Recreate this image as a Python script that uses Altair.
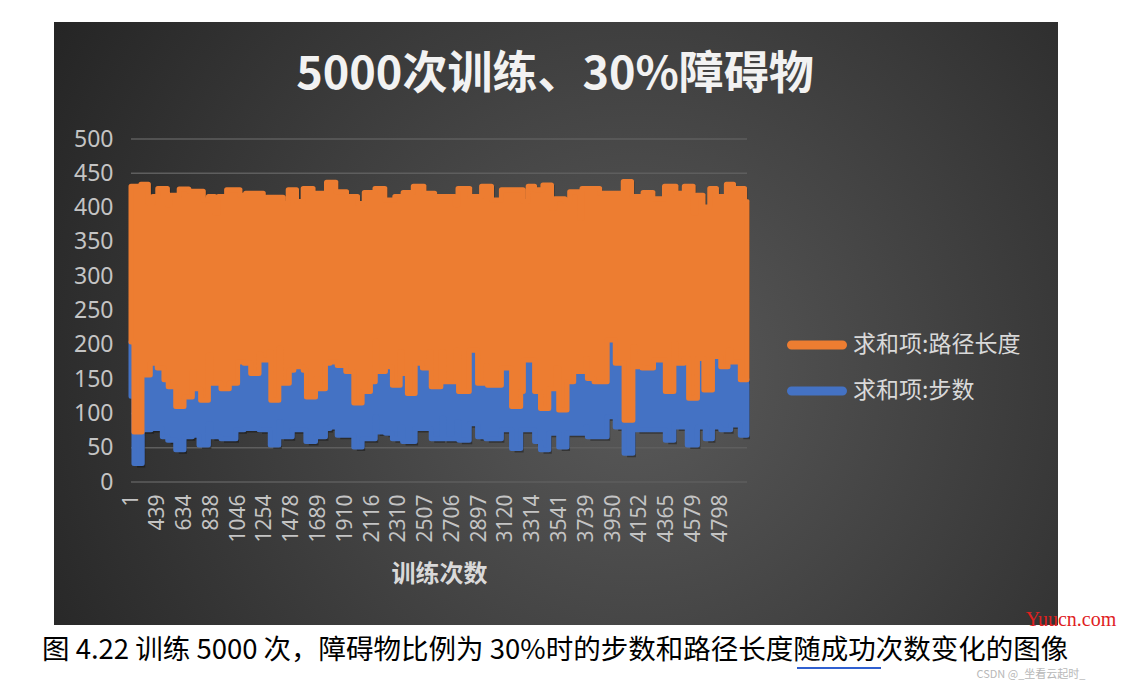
import altair as alt
import pandas as pd

TITLE = "5000次训练、30%障碍物"
X_TITLE = "训练次数"
CAPTION = "图 4.22 训练 5000 次，障碍物比例为 30%时的步数和路径长度随成功次数变化的图像"
WATERMARK_1 = "Yuucn.com"
WATERMARK_2 = "CSDN @_坐看云起时_"
SERIES = ["求和项:路径长度", "求和项:步数"]
COLORS = ["#ED7D31", "#4472C4"]
X_LABELS = ["1", "439", "634", "838", "1046", "1254", "1478", "1689", "1910", "2116",
            "2310", "2507", "2706", "2897", "3120", "3314", "3541", "3739", "3950",
            "4152", "4365", "4579", "4798"]
Y_TICKS = [0, 50, 100, 150, 200, 250, 300, 350, 400, 450, 500]
X_END = 23.0

# upper envelope of the orange series (path length), step starts in x-axis slot units
OHI_X = [0.00, 0.37, 0.65, 0.81, 1.00, 1.36, 1.47, 1.80, 2.16, 2.70, 2.89, 3.13, 3.26, 3.57,
         4.07, 4.28, 4.94, 5.68, 5.87, 6.18, 6.43, 6.80, 7.30, 7.65, 8.05, 8.46, 8.71, 9.11,
         9.48, 9.85, 10.16, 10.54, 10.94, 11.34, 12.09, 12.21, 12.65, 13.09, 13.46, 13.83,
         14.64, 14.83, 15.07, 15.38, 15.70, 15.82, 16.20, 16.38, 16.75, 16.84, 17.50, 18.38,
         18.69, 19.12, 19.49, 19.92, 20.35, 20.66, 20.99, 21.11, 21.36, 21.61, 21.86, 22.23,
         22.50, 22.91]
OHI_Y = [431, 434, 406, 416, 428, 404, 418, 427, 424, 411, 416, 392, 416, 426,
         418, 421, 415, 406, 426, 409, 428, 421, 437, 423, 416, 406, 422, 428,
         411, 416, 422, 431, 421, 416, 404, 428, 416, 431, 411, 426,
         409, 431, 426, 433, 399, 413, 409, 423, 384, 428, 421, 438,
         416, 422, 413, 431, 421, 431, 392, 418, 401, 428, 416, 434,
         428, 409]

# lower envelope of the orange series = visible top of the blue series
MID_X = [0.00, 0.11, 0.41, 0.72, 0.98, 1.23, 1.39, 1.67, 1.98, 2.29, 2.36, 2.60, 2.89, 3.00,
         3.36, 3.67, 3.98, 4.22, 4.47, 4.78, 4.85, 5.15, 5.22, 5.52, 5.60, 5.91, 6.08, 6.43,
         6.55, 6.89, 6.99, 7.26, 7.43, 7.70, 8.02, 8.32, 8.63, 8.94, 9.12, 9.17, 9.50, 9.76,
         10.05, 10.11, 10.32, 10.61, 10.88, 11.13, 11.21, 11.57, 11.68, 12.14, 12.23, 12.63,
         12.94, 13.25, 13.31, 13.83, 14.21, 14.55, 14.65, 15.07, 15.29, 15.60, 15.86, 15.97,
         16.28, 16.53, 16.98, 17.04, 17.29, 17.78, 18.08, 18.41, 18.74, 18.83, 19.08, 19.51,
         19.95, 20.27, 20.34, 20.65, 20.82, 21.15, 21.39, 21.71, 22.02, 22.29, 22.41, 22.75]
MID_Y = [204, 73, 156, 173, 166, 149, 139, 110, 124, 161, 136, 119, 185, 144,
         136, 144, 175, 173, 158, 187, 178, 190, 119, 195, 144, 163, 168, 163,
         124, 151, 136, 173, 175, 170, 161, 115, 132, 146, 205, 161, 168, 141,
         190, 158, 129, 173, 166, 190, 139, 190, 146, 192, 132, 192,
         144, 170, 141, 166, 110, 132, 178, 132, 107, 136, 166, 105,
         146, 161, 180, 151, 146, 207, 173, 90, 197, 168, 166, 178,
         132, 202, 173, 180, 122, 180, 134, 183, 168, 192, 175, 149]

# lower envelope of the blue series (steps)
BLO_X = [0.00, 0.11, 0.42, 0.75, 1.17, 1.37, 1.67, 1.98, 2.29, 2.54, 2.89, 3.00, 3.36, 3.92,
         4.22, 4.78, 5.20, 5.52, 5.60, 6.02, 6.53, 6.89, 7.26, 7.43, 7.70, 8.32, 8.63, 9.12,
         9.17, 9.50, 9.76, 10.05, 10.14, 10.61, 11.21, 11.61, 11.68, 12.16, 12.24, 12.63,
         12.94, 13.25, 13.83, 14.21, 14.55, 15.07, 15.29, 15.60, 15.97, 16.28, 16.98, 17.04,
         17.78, 18.08, 18.41, 18.74, 18.87, 19.95, 20.27, 20.34, 20.77, 21.15, 21.44, 21.71,
         22.02, 22.39, 22.75]
BLO_Y = [125, 27, 76, 78, 66, 61, 47, 66, 68, 54, 85, 66, 63, 76,
         78, 76, 54, 88, 66, 76, 59, 66, 78, 80, 68, 51, 63, 95,
         73, 71, 63, 80, 59, 78, 63, 93, 63, 88, 61, 85,
         66, 63, 76, 49, 76, 59, 47, 71, 51, 71, 80, 66,
         95, 80, 42, 88, 76, 61, 85, 80, 54, 80, 63, 80,
         76, 83, 68]

for xs, ys in ((OHI_X, OHI_Y), (MID_X, MID_Y), (BLO_X, BLO_Y)):
    assert len(xs) == len(ys), (len(xs), len(ys))


def step_value(xs, ys, x):
    v = ys[0]
    for xi, yi in zip(xs, ys):
        if xi <= x + 1e-9:
            v = yi
        else:
            break
    return v


rows = []
for x in sorted(set(OHI_X) | set(MID_X) | set(BLO_X) | {X_END}):
    top = step_value(OHI_X, OHI_Y, x)
    mid = step_value(MID_X, MID_Y, x)
    low = step_value(BLO_X, BLO_Y, x)
    rows.append({"x": x, "series": SERIES[0], "lo": mid, "hi": top})
    rows.append({"x": x, "series": SERIES[1], "lo": low, "hi": mid})
df = pd.DataFrame(rows)
grid_df = pd.DataFrame({"lo": Y_TICKS})

FONT_NUM = "Noto Sans"
FONT_CJK = "Noto Sans CJK SC"
LABEL_COLOR = "#c4c4c4"
label_expr = "[" + ",".join("'%s'" % s for s in X_LABELS) + "][datum.value]"

x_enc = alt.X(
    "x:Q",
    scale=alt.Scale(domain=[0, X_END], nice=False, zero=False),
    axis=alt.Axis(values=list(range(len(X_LABELS))), labelExpr=label_expr, labelAngle=270,
                  labelAlign="right", labelBaseline="middle", labelPadding=12,
                  labelFont=FONT_NUM, labelFontSize=21, labelColor=LABEL_COLOR,
                  labelOverlap=False, labelFlush=False, ticks=False, domain=False, grid=False,
                  title=X_TITLE, titleFont=FONT_CJK, titleFontSize=24, titleFontWeight="bold",
                  titleColor="#d9d9d9", titleY=92, titleBaseline="middle", zindex=1),
)
y_axis = alt.Axis(values=Y_TICKS, labelPadding=18, labelFont=FONT_NUM, labelFontSize=23,
                  labelColor=LABEL_COLOR, labelFlush=False, ticks=False, domain=False,
                  grid=False, title=None, zindex=1)
y_scale = alt.Scale(domain=[0, 500], nice=False, zero=True)
y_enc = alt.Y("lo:Q", scale=y_scale, axis=y_axis)
y2_enc = alt.Y2("hi:Q")
PILL = "M-1.7,-0.3L1.7,-0.3A0.3,0.3,0,0,1,1.7,0.3L-1.7,0.3A0.3,0.3,0,0,1,-1.7,-0.3Z"
color_enc = alt.Color(
    "series:N",
    scale=alt.Scale(domain=SERIES, range=COLORS),
    legend=alt.Legend(title=None, orient="none", legendX=671, legendY=191, symbolType=PILL,
                      symbolSize=900, symbolStrokeWidth=0, labelFont=FONT_CJK,
                      labelFontSize=23, labelColor="#d9d9d9", labelOffset=21, rowPadding=19,
                      labelLimit=400),
)

bg = alt.Chart(pd.DataFrame({"k": [0]})).mark_rect(
    fill={"gradient": "radial", "x1": 0.58, "y1": 0.55, "r1": 0, "x2": 0.58, "y2": 0.55, "r2": 0.75,
          "stops": [{"offset": 0, "color": "#5a5a5a"}, {"offset": 1, "color": "#1f1f1f"}]}
).encode(x=alt.value(-77), x2=alt.value(927), y=alt.value(-117), y2=alt.value(486))

grid = alt.Chart(grid_df).mark_rule(color="#5e5e5e", strokeWidth=1.5).encode(y=y_enc)

shadow = alt.Chart(df).mark_area(interpolate="step-after", color="#000000", opacity=0.35,
                                 xOffset=3, yOffset=4).encode(
    x=x_enc, y=y_enc, y2=y2_enc, detail="series:N")

blue = alt.Chart(df).transform_filter(
    alt.FieldEqualPredicate(field="series", equal=SERIES[1])
).mark_area(interpolate="step-after", stroke=COLORS[1], strokeWidth=5, strokeJoin="round").encode(
    x=x_enc, y=y_enc, y2=y2_enc, color=color_enc)

orange = alt.Chart(df).transform_filter(
    alt.FieldEqualPredicate(field="series", equal=SERIES[0])
).mark_area(interpolate="step-after", stroke=COLORS[0], strokeWidth=5, strokeJoin="round").encode(
    x=x_enc, y=y_enc, y2=y2_enc, color=color_enc)

one = pd.DataFrame({"k": [0]})
title_txt = alt.Chart(one).mark_text(text=TITLE, font=FONT_CJK, fontSize=45, fontWeight="bold",
                                     color="#f2f2f2", align="center", baseline="middle").encode(
    x=alt.value(424), y=alt.value(-64))
caption = alt.Chart(one).mark_text(text=CAPTION, font=FONT_CJK, fontSize=27.5, color="#000000",
                                   align="left", baseline="middle").encode(
    x=alt.value(-89), y=alt.value(512))
wm1 = alt.Chart(one).mark_text(text=WATERMARK_1, font="Liberation Serif", fontSize=20,
                               color="#e0201e", align="center", baseline="middle").encode(
    x=alt.value(940), y=alt.value(481))
wm2 = alt.Chart(one).mark_text(text=WATERMARK_2, font=FONT_CJK, fontSize=11, color="#9a9a9a",
                               opacity=0.7, align="center", baseline="middle").encode(
    x=alt.value(900), y=alt.value(536))
underline = alt.Chart(one).mark_rule(color="#2f5fd0", strokeWidth=2).encode(
    x=alt.value(666), x2=alt.value(750), y=alt.value(529))

chart = alt.layer(bg, grid, shadow, blue, orange, title_txt, caption, wm1, wm2, underline).properties(
    width=616, height=343,
    padding={"left": 131, "top": 139, "right": 385, "bottom": 198},
    autosize=alt.AutoSizeParams(type="none"),
    background="#ffffff",
).configure_view(stroke=None)

chart.save("out.html", embed_options={"renderer": "svg", "actions": False})
